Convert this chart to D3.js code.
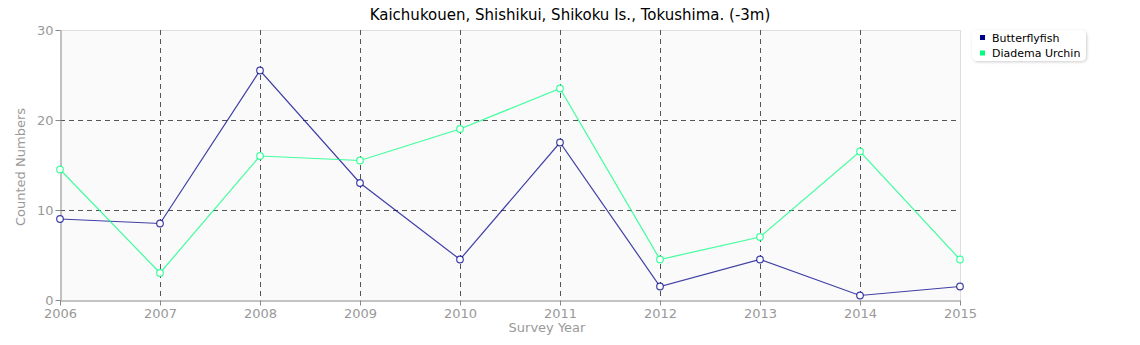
<!DOCTYPE html>
<html>
<head>
<meta charset="utf-8">
<script src="https://cdn.jsdelivr.net/npm/d3@7"></script>
<style>
  html, body { margin: 0; padding: 0; background: #fff; }
  svg { display: block; font-family: "DejaVu Sans", Verdana, sans-serif; }
</style>
</head>
<body>
<svg id="chart" width="1140" height="345"></svg>
<script>
// Survey years and counts per series
const years = [2006, 2007, 2008, 2009, 2010, 2011, 2012, 2013, 2014, 2015];
const butterflyfish = [9, 8.5, 25.5, 13, 4.5, 17.5, 1.5, 4.5, 0.5, 1.5];
const diademaUrchin = [14.5, 3, 16, 15.5, 19, 23.5, 4.5, 7, 16.5, 4.5];
const yTicks = [0, 10, 20, 30];
const seriesNames = ["Butterflyfish", "Diadema Urchin"];
const seriesColors = ["#00008b", "#00ff7f"];

const svg = d3.select("#chart");
const margin = { left: 60, right: 180, top: 30, bottom: 45 };
const W = 1140, H = 345;
const x0 = margin.left, x1 = W - margin.right;
const y0 = H - margin.bottom, y1 = margin.top;

const x = d3.scaleLinear().domain([2006, 2015]).range([x0, x1]);
const y = d3.scaleLinear().domain([0, 30]).range([y0, y1]);

// Plot background and frame
svg.append("rect").attr("x", x0).attr("y", y1)
  .attr("width", x1 - x0).attr("height", y0 - y1).attr("fill", "#fafafa");
svg.append("line").attr("x1", x0).attr("x2", x1).attr("y1", y1 + 0.5).attr("y2", y1 + 0.5)
  .attr("stroke", "#ddd");
svg.append("line").attr("x1", x1 + 0.5).attr("x2", x1 + 0.5).attr("y1", y1).attr("y2", y0)
  .attr("stroke", "#ddd");

// Dashed grid
const grid = svg.append("g").attr("stroke", "#555").attr("stroke-dasharray", "5,4").attr("stroke-width", 1);
yTicks.filter(t => t > 0 && t < 30).forEach(t => {
  grid.append("line").attr("x1", x0).attr("x2", x1)
    .attr("y1", Math.round(y(t)) + 0.5).attr("y2", Math.round(y(t)) + 0.5);
});
years.filter(t => t > 2006 && t < 2015).forEach(t => {
  grid.append("line").attr("y1", y1).attr("y2", y0)
    .attr("x1", Math.round(x(t)) + 0.5).attr("x2", Math.round(x(t)) + 0.5);
});

// Axes
const xAxis = svg.append("g").attr("transform", `translate(0,${y0 + 0.5})`)
  .call(d3.axisBottom(x).tickValues(years).tickFormat(d3.format("d")).tickSize(5).tickSizeOuter(0));
const yAxis = svg.append("g").attr("transform", `translate(${x0 + 0.5},0)`)
  .call(d3.axisLeft(y).tickValues(yTicks).tickSize(5).tickSizeOuter(0));
[xAxis, yAxis].forEach(a => {
  a.select(".domain").attr("stroke", "#888");
  a.selectAll(".tick line").attr("stroke", "#888");
  a.selectAll(".tick text").attr("fill", "#999").attr("font-size", 13)
    .attr("font-family", "\"DejaVu Sans\", sans-serif");
});
xAxis.selectAll(".tick text").attr("dy", "0.85em").attr("y", 6);
yAxis.selectAll(".tick text").attr("x", -7);

// Axis titles
svg.append("text").attr("x", 547).attr("y", 332).attr("text-anchor", "middle")
  .attr("fill", "#999").attr("font-size", 13).text("Survey Year");
svg.append("text").attr("transform", `translate(25,167) rotate(-90)`)
  .attr("text-anchor", "middle").attr("fill", "#999").attr("font-size", 13).text("Counted Numbers");

// Title
svg.append("text").attr("x", W / 2).attr("y", 20).attr("text-anchor", "middle")
  .attr("fill", "#000").attr("font-size", 15).text("Kaichukouen, Shishikui, Shikoku Is., Tokushima. (-3m)");

// Series lines and markers
const line = d3.line().x((d, i) => x(years[i])).y(d => y(d));
[butterflyfish, diademaUrchin].forEach((vals, s) => {
  const g = svg.append("g");
  g.append("path").datum(vals).attr("d", line).attr("fill", "none")
    .attr("stroke", seriesColors[s]).attr("stroke-opacity", 0.75).attr("stroke-width", 1.2);
  g.selectAll("circle").data(vals).join("circle")
    .attr("cx", (d, i) => x(years[i])).attr("cy", d => y(d)).attr("r", 3.3)
    .attr("fill", "#fff").attr("stroke", seriesColors[s]).attr("stroke-opacity", 0.75)
    .attr("stroke-width", 1.2);
});

// Legend
const defs = svg.append("defs");
const f = defs.append("filter").attr("id", "shadow").attr("x", "-20%").attr("y", "-30%")
  .attr("width", "140%").attr("height", "160%");
f.append("feDropShadow").attr("dx", 1).attr("dy", 1).attr("stdDeviation", 1.5)
  .attr("flood-color", "#000").attr("flood-opacity", 0.2);
const lg = svg.append("g").attr("transform", "translate(972,30)");
lg.append("rect").attr("width", 114).attr("height", 31).attr("rx", 5)
  .attr("fill", "#fff").attr("filter", "url(#shadow)");
seriesNames.forEach((n, i) => {
  lg.append("rect").attr("x", 8).attr("y", 5 + i * 15.5).attr("width", 5).attr("height", 5)
    .attr("fill", seriesColors[i]);
  lg.append("text").attr("x", 20).attr("y", 11.5 + i * 15.5).attr("font-size", 11)
    .attr("fill", "#000").text(n);
});
</script>
</body>
</html>
